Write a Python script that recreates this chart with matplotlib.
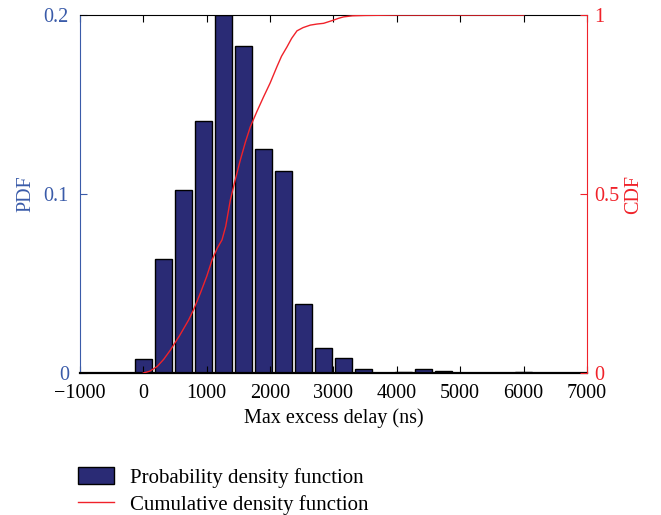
import matplotlib.pyplot as plt

plt.rcParams["font.family"] = ["Liberation Serif", "DejaVu Serif"]

# histogram bin centres (ns) and relative frequency
BIN_CENTERS = [0, 316, 632, 948, 1264, 1580, 1896, 2212, 2528, 2844,
               3160, 3476, 3792, 4108, 4424, 4740, 5056, 5372, 5688, 6004]
PDF_VALUES = [0.0077, 0.0635, 0.1024, 0.1406, 0.2, 0.1829, 0.125, 0.1128,
              0.0387, 0.0141, 0.0082, 0.002, 0.0, 0.0007, 0.002, 0.0013,
              0.0, 0.0, 0.0, 0.0006]

CDF_X = [0, 100, 216, 320, 426, 570, 714, 800, 899, 1000, 1084, 1170, 1241,
         1300, 1372, 1450, 1530, 1610, 1688, 1790, 1898, 2000, 2108, 2180,
         2266, 2340, 2424, 2520, 2634, 2740, 2844, 2950, 3002, 3080, 3160,
         3300, 3500, 4000, 4500, 5000, 5500, 6000]
CDF_Y = [0.0, 0.005, 0.018, 0.038, 0.064, 0.104, 0.148, 0.18, 0.223, 0.27,
         0.316, 0.35, 0.372, 0.41, 0.483, 0.54, 0.595, 0.645, 0.688, 0.73,
         0.772, 0.81, 0.856, 0.885, 0.911, 0.935, 0.956, 0.965, 0.972, 0.975,
         0.977, 0.983, 0.986, 0.991, 0.995, 0.998, 0.999, 1.0, 1.0, 1.0, 1.0, 1.0]

BLUE = "#3a5ba9"
RED = "#f0222a"
FS = 14.5

fig = plt.figure(figsize=(6.61, 5.15), dpi=100)
ax = fig.add_axes([0.121, 0.2757, 0.767, 0.695])

bars = ax.bar(BIN_CENTERS, PDF_VALUES, width=270, color="#2a2b75",
              edgecolor="black", linewidth=1.0,
              label="Probability density function")
ax.set_xlim(-1000, 7000)
ax.set_ylim(0, 0.2)
ax.set_xticks(range(-1000, 7001, 1000))
ax.set_xticklabels(["\u22121000"] + [str(v) for v in range(0, 7001, 1000)])
ax.set_yticks([0, 0.1, 0.2])
ax.set_yticklabels(["0", "0.1", "0.2"])
ax.set_xlabel("Max excess delay (ns)", fontsize=FS, labelpad=4)
ax.set_ylabel("PDF", fontsize=FS, color=BLUE, labelpad=6)
ax.tick_params(axis="x", direction="in", top=True, labelsize=FS, length=5,
               pad=8)
ax.tick_params(axis="y", direction="in", colors=BLUE, labelsize=FS, length=5,
               pad=8)
ax.spines["left"].set_color(BLUE)
ax.spines["bottom"].set_linewidth(1.6)
ax.spines["right"].set_visible(False)

ax2 = ax.twinx()
line, = ax2.plot(CDF_X, CDF_Y, color=RED, linewidth=1.0,
                 label="Cumulative density function")
ax2.set_ylim(0, 1)
ax2.set_yticks([0, 0.5, 1])
ax2.set_yticklabels(["0", "0.5", "1"])
ax2.set_ylabel("CDF", fontsize=FS, color=RED, labelpad=4)
ax2.tick_params(axis="y", direction="in", colors=RED, labelsize=FS, length=5,
                pad=5)
ax2.spines["right"].set_color(RED)
for s in ["left", "top", "bottom"]:
    ax2.spines[s].set_visible(False)

fig.legend(handles=[bars, line], loc="upper left",
           bbox_to_anchor=(0.106, 0.11), frameon=False, fontsize=15,
           handlelength=1.7, handleheight=0.9, handletextpad=0.8,
           labelspacing=0.3, borderaxespad=0)

fig.savefig("out.png", dpi=100)
